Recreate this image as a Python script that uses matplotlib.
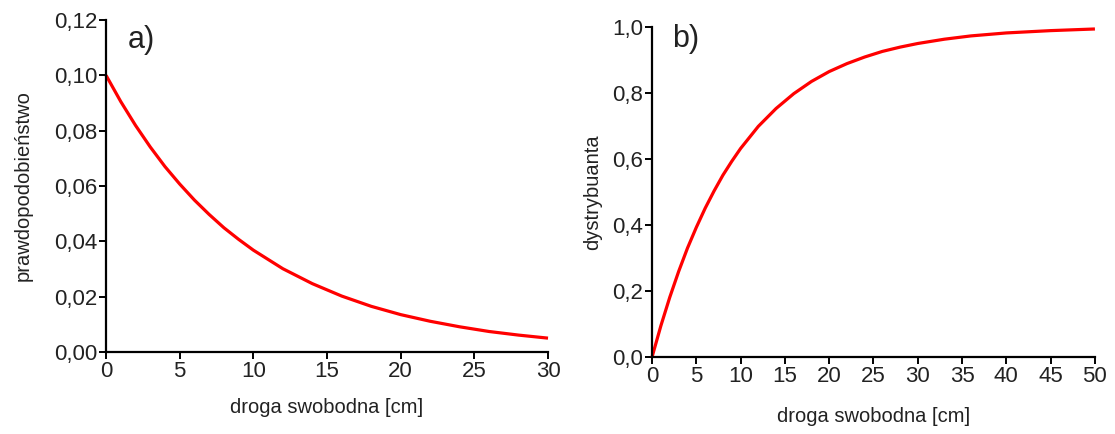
import numpy as np
import matplotlib.pyplot as plt

plt.rcParams['font.family'] = ['Liberation Sans', 'DejaVu Sans']

# panel a) - probability density
x_a = [0, 1, 2, 3, 4, 5, 6, 7, 8, 9, 10, 12, 14, 16, 18, 20, 22, 24, 26, 28, 30]
p_a = [0.1000, 0.0905, 0.0819, 0.0741, 0.0670, 0.0607, 0.0549, 0.0497, 0.0449,
       0.0407, 0.0368, 0.0301, 0.0247, 0.0202, 0.0165, 0.0135, 0.0111, 0.0091,
       0.0074, 0.0061, 0.0050]

# panel b) - cumulative distribution
x_b = [0, 1, 2, 3, 4, 5, 6, 7, 8, 9, 10, 12, 14, 16, 18, 20, 22, 24, 26, 28,
       30, 33, 36, 40, 45, 50]
F_b = [0.000, 0.095, 0.181, 0.259, 0.330, 0.393, 0.451, 0.503, 0.551, 0.593,
       0.632, 0.699, 0.753, 0.798, 0.835, 0.865, 0.889, 0.909, 0.926, 0.939,
       0.950, 0.963, 0.973, 0.982, 0.989, 0.994]

xticks_a = [0, 5, 10, 15, 20, 25, 30]
yticks_a = [0.00, 0.02, 0.04, 0.06, 0.08, 0.10, 0.12]
ylabels_a = ['0,00', '0,02', '0,04', '0,06', '0,08', '0,10', '0,12']
xticks_b = [0, 5, 10, 15, 20, 25, 30, 35, 40, 45, 50]
yticks_b = [0.0, 0.2, 0.4, 0.6, 0.8, 1.0]
ylabels_b = ['0,0', '0,2', '0,4', '0,6', '0,8', '1,0']

fig = plt.figure(figsize=(11.15, 4.34), dpi=100)
ax1 = fig.add_axes([0.0951, 0.189, 0.3964, 0.765])
ax2 = fig.add_axes([0.5848, 0.1774, 0.3972, 0.7604])

txt = '#222222'


def style(ax):
    for s in ['top', 'right']:
        ax.spines[s].set_visible(False)
    for s in ['left', 'bottom']:
        ax.spines[s].set_linewidth(1.6)
    ax.tick_params(direction='out', length=5, width=1.4, labelsize=16,
                   colors='black', labelcolor=txt, pad=1.5)


ax1.plot(x_a, p_a, color='red', lw=2.3, clip_on=False, solid_capstyle='butt')
ax1.set_xlim(0, 30)
ax1.set_ylim(0, 0.12)
ax1.set_xticks(xticks_a)
ax1.set_yticks(yticks_a)
ax1.set_yticklabels(ylabels_a)
ax1.set_xlabel('droga swobodna [cm]', fontsize=14.5, color=txt, labelpad=11.5)
ax1.set_ylabel('prawdopodobieństwo', fontsize=14.5, color=txt, labelpad=15)
ax1.text(0.05, 0.985, 'a)', transform=ax1.transAxes, fontsize=22,
         va='top', ha='left', color=txt)
style(ax1)

ax2.plot(x_b, F_b, color='red', lw=2.3, clip_on=False, solid_capstyle='butt')
ax2.set_xlim(0, 50)
ax2.set_ylim(0, 1.0)
ax2.set_xticks(xticks_b)
ax2.set_yticks(yticks_b)
ax2.set_yticklabels(ylabels_b)
ax2.set_xlabel('droga swobodna [cm]', fontsize=14.5, color=txt, labelpad=14.5)
ax2.set_ylabel('dystrybuanta', fontsize=14.5, color=txt, labelpad=7)
ax2.text(0.045, 1.01, 'b)', transform=ax2.transAxes, fontsize=22,
         va='top', ha='left', color=txt)
style(ax2)

fig.savefig('out.png', dpi=100)
